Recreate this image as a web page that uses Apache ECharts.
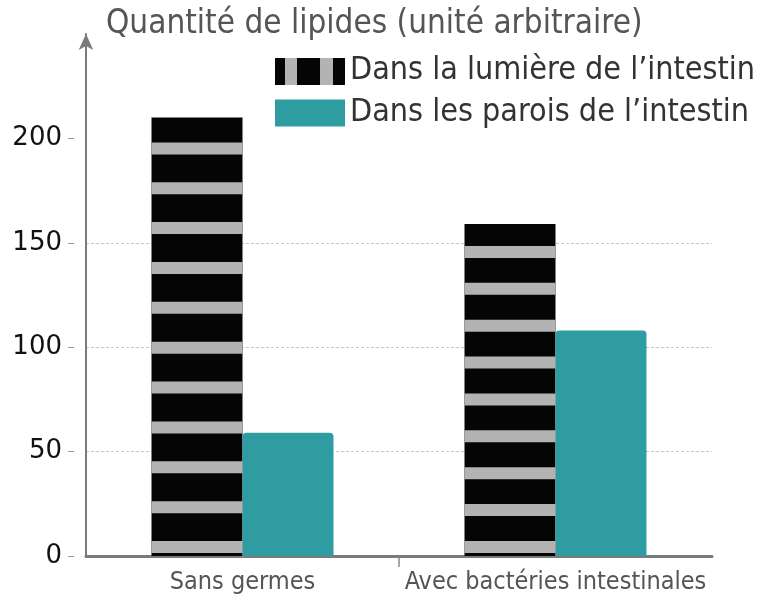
<html>
<head>
	<meta http-equiv="Content-Type" content="text/html; charset=UTF-8">
	<title>lipides</title>
	<style>
		html, body { margin: 0; padding: 0; background: #fff; }
		#chart { width: 758px; height: 603px; }
	</style>
</head>
<body>
	<div id="chart"></div>

	<script type="text/javascript" src="https://cdn.jsdelivr.net/npm/echarts@6/dist/echarts.min.js"></script>
	<script type="text/javascript">

	var categories = ['Sans germes', 'Avec bactéries intestinales'];
	var lumiere = [210, 159];
	var parois = [59, 108];
	var yTicks = [0, 50, 100, 150, 200];

	var nomLumiere = 'Dans la lumière de l\u2019intestin';
	var nomParois = 'Dans les parois de l\u2019intestin';

	var narrow = "'Liberation Sans Narrow', 'DejaVu Sans Condensed', Roboto, sans-serif";
	var barW = 91;

	// icone de legende : bandes verticales noir / gris
	function stripeIcon() {
		var c = document.createElement('canvas');
		c.width = 70; c.height = 27;
		var g = c.getContext('2d');
		g.fillStyle = '#050505';
		g.fillRect(0, 0, 70, 27);
		g.fillStyle = '#b3b3b3';
		g.fillRect(10, 0, 12, 27);
		g.fillRect(45, 0, 13, 27);
		return 'image://' + c.toDataURL();
	}

	var stripeData = [];
	for (var i = 0; i < lumiere.length; i++) {
		stripeData.push([i, lumiere[i]]);
	}

	var myChart = echarts.init(document.getElementById('chart'), null, {renderer: 'canvas'});

	var option = {
		animation: false,
		backgroundColor: '#fff',
		title: {
			text: 'Quantité de lipides (unité arbitraire)',
			left: 101,
			top: 3,
			textStyle: {
				fontFamily: narrow,
				fontSize: 33,
				fontWeight: 'normal',
				color: '#555'
			}
		},
		legend: {
			orient: 'vertical',
			left: 270,
			top: 50,
			itemWidth: 70,
			itemHeight: 27,
			itemGap: 10,
			data: [
				{name: nomLumiere, icon: stripeIcon()},
				{name: nomParois, icon: 'rect'}
			],
			textStyle: {
				fontFamily: narrow,
				fontSize: 32,
				color: '#333'
			}
		},
		grid: {
			left: 86,
			right: 46,
			top: 34,
			bottom: 47,
			containLabel: false
		},
		xAxis: [
			{
				type: 'category',
				data: categories,
				axisLine: {
					lineStyle: {color: '#7a7a7a', width: 3}
				},
				axisTick: {show: false},
				axisLabel: {
					interval: 0,
					margin: 14,
					fontFamily: narrow,
					fontSize: 25,
					color: '#555'
				}
			},
			{
				// seulement le petit trait entre les deux groupes
				type: 'value',
				position: 'bottom',
				min: 0,
				max: 2,
				axisLine: {show: false},
				axisLabel: {show: false},
				splitLine: {show: false},
				axisTick: {
					show: true,
					length: 11,
					customValues: [1],
					lineStyle: {color: '#888', width: 1.5}
				}
			}
		],
		yAxis: {
			type: 'value',
			min: 0,
			max: 250,
			interval: 50,
			axisLine: {
				show: true,
				symbol: ['none', 'arrow'],
				symbolSize: [11, 16],
				lineStyle: {color: '#7a7a7a', width: 2}
			},
			axisTick: {
				show: true,
				length: 18,
				customValues: yTicks,
				lineStyle: {color: '#999', width: 1, type: [0, 12, 6, 0]}
			},
			axisLabel: {
				margin: 24,
				customValues: yTicks,
				fontFamily: "'DejaVu Sans', sans-serif",
				fontSize: 26,
				color: '#111'
			},
			splitLine: {
				show: true,
				showMinLine: false,
				showMaxLine: false,
				lineStyle: {color: '#c8c8c8', width: 1, type: [3, 2]}
			}
		},
		series: [
			{
				name: nomLumiere,
				type: 'bar',
				barWidth: barW,
				barGap: 0,
				itemStyle: {color: '#050505'},
				data: lumiere
			},
			{
				name: nomParois,
				type: 'bar',
				barWidth: barW,
				barGap: 0,
				itemStyle: {color: '#2e9ca1', borderRadius: [4, 4, 0, 0]},
				data: parois
			},
			{
				name: 'bandes',
				type: 'custom',
				z: 5,
				silent: true,
				data: stripeData,
				encode: {x: 0, y: 1},
				renderItem: function (params, api) {
					var top = api.coord([api.value(0), api.value(1)]);
					var bas = api.coord([api.value(0), 0]);
					var h = bas[1] - top[1];
					var n = Math.round(h / 39);
					var pas = h / n;
					var kids = [];
					for (var k = 0; k < n; k++) {
						var fin = bas[1] - 3 - k * pas;
						kids.push({
							type: 'rect',
							shape: {x: top[0] - barW, y: fin - 12, width: barW, height: 12},
							style: {fill: '#b3b3b3'}
						});
					}
					return {type: 'group', children: kids};
				}
			}
		]
	};

	myChart.setOption(option);
	</script>
</body>
</html>
